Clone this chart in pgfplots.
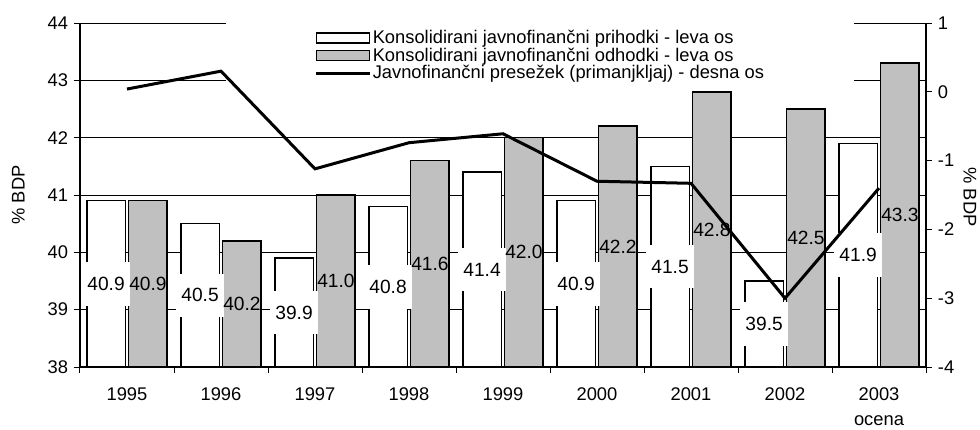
\documentclass[border=0pt]{standalone}
\usepackage{fontspec}
\setmainfont{Liberation Sans}
\usepackage{pgfplots}
\pgfplotsset{compat=1.18}
\definecolor{barfill}{RGB}{192,192,192}

\begin{document}
\begin{tikzpicture}
\path[use as bounding box] (-48pt,-37.2pt) rectangle (540pt,220.2pt);
\pgfplotsset{
  /pgf/number format/assume math mode=true,
  every axis/.append style={
    scale only axis, width=507.6pt, height=206.4pt,
    xmin=-0.5, xmax=8.5,
    font=\fontsize{11}{13}\selectfont,
    tick align=outside,
    major tick length=3.6pt,
    axis line style={line width=0.7pt},
    tick style={black, line width=0.6pt},
  },
}
% bars, left axis
\begin{axis}[
  ybar, bar width=23.1pt,
  ymin=38, ymax=44, ytick={38,...,44},
  axis y line*=left, axis x line*=bottom,
  xtick={0,...,8},
  xticklabels={1995,1996,1997,1998,1999,2000,2001,2002,{2003\\[2pt]ocena}},
  xticklabel style={align=center, anchor=north, yshift=-5pt},
  major x tick style={draw=none},
  minor xtick={-0.5,0.5,1.5,2.5,3.5,4.5,5.5,6.5,7.5,8.5},
  minor tick length=3.6pt,
  ymajorgrids, grid style={black, line width=0.5pt},
  ylabel={\% BDP},
  ylabel style={at={(axis description cs:-0.073,0.5)}, anchor=center},
  legend style={at={(axis description cs:0.544,0.905)}, anchor=center,
    draw=none, fill=white, inner xsep=53pt, inner ysep=5pt,
    row sep=0pt, font=\fontsize{11}{13}\selectfont,
    nodes={inner xsep=1pt, inner ysep=0.6pt}, cells={anchor=west}},
  legend image code/.code={\draw[#1, line width=0.8pt] (0pt,-3pt) rectangle (32pt,3pt);},
  visualization depends on={rawy \as \rawy},
  nodes near coords={\pgfmathprintnumber[fixed,zerofill,precision=1]{\pgfplotspointmeta}},
  every node near coord/.append style={anchor=center, text=black, draw=none,
    font=\fontsize{11.5}{13}\selectfont, yshift={(38-\rawy)*17.2}},
]
\addplot[fill=white, draw=black, line width=0.9pt,
  every node near coord/.append style={fill=white, inner xsep=3pt, inner ysep=9pt}]
  coordinates {(0,40.9) (1,40.5) (2,39.9) (3,40.8) (4,41.4) (5,40.9) (6,41.5) (7,39.5) (8,41.9)};
\addplot[fill=barfill, draw=black, line width=0.9pt,
  every node near coord/.append style={fill=none, inner xsep=1pt}]
  coordinates {(0,40.9) (1,40.2) (2,41.0) (3,41.6) (4,42.0) (5,42.2) (6,42.8) (7,42.5) (8,43.3)};
\addlegendimage{legend image code/.code={\draw[black, line width=1.8pt] (0pt,0pt) -- (32pt,0pt);}}
\legend{Konsolidirani javnofinančni prihodki - leva os,
        Konsolidirani javnofinančni odhodki - leva os,
        Javnofinančni presežek (primanjkljaj) - desna os}
\end{axis}
% line, right axis
\begin{axis}[
  ymin=-4, ymax=1, ytick={-4,...,1},
  axis y line*=right, axis x line=none,
  ylabel={\% BDP},
  every axis y label/.style={at={(axis description cs:1.052,0.494)}, anchor=center, rotate=-90},
]
\addplot[black, line width=1.8pt, mark=none]
  coordinates {(0,0.04) (1,0.30) (2,-1.12) (3,-0.74) (4,-0.61) (5,-1.30) (6,-1.33) (7,-3.0) (8,-1.40)};
\end{axis}
\end{tikzpicture}
\end{document}
